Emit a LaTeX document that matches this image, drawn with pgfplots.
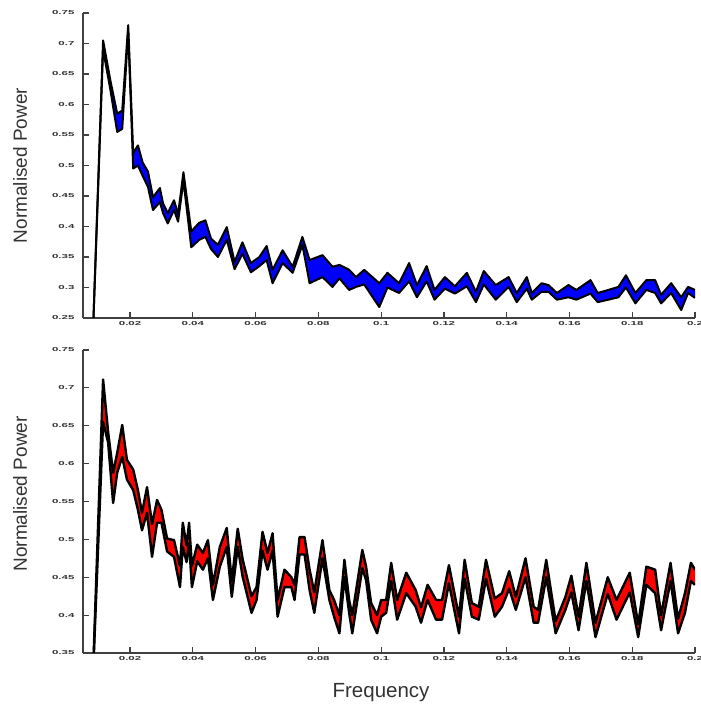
\documentclass[border=0pt]{standalone}
\usepackage{fontspec}
\setmainfont{Liberation Sans}
\usepackage{pgfplots}
\usepackage{pgfplotstable}
\pgfplotsset{compat=1.18}
\usepgfplotslibrary{fillbetween}

% upper panel: band limits
\pgfplotstableread{
x lo hi
0.0080 0.200 0.200
0.0114 0.690 0.705
0.0137 0.625 0.640
0.0159 0.555 0.585
0.0175 0.560 0.590
0.0194 0.720 0.730
0.0210 0.495 0.520
0.0225 0.500 0.533
0.0240 0.483 0.505
0.0257 0.465 0.490
0.0273 0.427 0.448
0.0295 0.440 0.463
0.0305 0.422 0.438
0.0320 0.405 0.422
0.0340 0.427 0.443
0.0353 0.408 0.420
0.0370 0.475 0.489
0.0395 0.366 0.392
0.0420 0.378 0.406
0.0440 0.383 0.410
0.0458 0.363 0.380
0.0480 0.350 0.370
0.0508 0.378 0.399
0.0533 0.330 0.342
0.0558 0.355 0.374
0.0585 0.325 0.340
0.0612 0.335 0.350
0.0635 0.345 0.368
0.0654 0.307 0.329
0.0686 0.340 0.361
0.0718 0.324 0.334
0.0749 0.370 0.383
0.0772 0.307 0.345
0.0813 0.317 0.353
0.0845 0.301 0.334
0.0867 0.315 0.337
0.0898 0.296 0.329
0.0920 0.301 0.317
0.0946 0.305 0.329
0.0994 0.268 0.307
0.1020 0.300 0.324
0.1057 0.291 0.307
0.1089 0.310 0.340
0.1114 0.284 0.304
0.1145 0.310 0.335
0.1170 0.280 0.296
0.1203 0.298 0.317
0.1235 0.290 0.302
0.1273 0.302 0.324
0.1302 0.276 0.293
0.1327 0.305 0.327
0.1365 0.280 0.304
0.1406 0.301 0.317
0.1432 0.276 0.291
0.1464 0.298 0.317
0.1480 0.280 0.291
0.1511 0.293 0.307
0.1533 0.293 0.304
0.1560 0.280 0.291
0.1597 0.284 0.304
0.1622 0.280 0.296
0.1667 0.290 0.312
0.1690 0.276 0.291
0.1724 0.280 0.296
0.1756 0.284 0.301
0.1780 0.300 0.320
0.1810 0.274 0.291
0.1845 0.296 0.312
0.1873 0.291 0.312
0.1892 0.274 0.288
0.1924 0.291 0.307
0.1956 0.263 0.284
0.1978 0.291 0.301
0.2000 0.283 0.296
}\toptab

% lower panel
\pgfplotstableread{
x lo hi
0.0080 0.300 0.300
0.0114 0.655 0.711
0.0130 0.628 0.642
0.0146 0.548 0.588
0.0159 0.588 0.614
0.0175 0.609 0.651
0.0190 0.579 0.605
0.0210 0.565 0.592
0.0225 0.539 0.565
0.0238 0.512 0.535
0.0254 0.535 0.569
0.0270 0.477 0.520
0.0286 0.522 0.552
0.0300 0.522 0.539
0.0318 0.484 0.501
0.0340 0.477 0.499
0.0359 0.437 0.465
0.0368 0.490 0.522
0.0380 0.470 0.492
0.0388 0.495 0.522
0.0397 0.437 0.465
0.0414 0.471 0.493
0.0432 0.460 0.482
0.0448 0.475 0.499
0.0464 0.420 0.440
0.0486 0.464 0.490
0.0508 0.490 0.515
0.0524 0.424 0.445
0.0543 0.490 0.514
0.0559 0.450 0.473
0.0587 0.403 0.425
0.0603 0.420 0.437
0.0622 0.485 0.510
0.0638 0.460 0.482
0.0654 0.485 0.508
0.0670 0.398 0.420
0.0692 0.437 0.460
0.0714 0.437 0.450
0.0724 0.420 0.440
0.0740 0.480 0.503
0.0756 0.480 0.503
0.0772 0.433 0.460
0.0787 0.403 0.430
0.0813 0.475 0.499
0.0835 0.420 0.433
0.0850 0.398 0.420
0.0867 0.376 0.400
0.0883 0.450 0.473
0.0898 0.403 0.420
0.0908 0.376 0.400
0.0940 0.462 0.486
0.0952 0.446 0.464
0.0968 0.394 0.416
0.0987 0.376 0.400
0.1000 0.398 0.420
0.1016 0.403 0.420
0.1032 0.445 0.469
0.1051 0.394 0.420
0.1080 0.429 0.456
0.1110 0.411 0.433
0.1127 0.390 0.410
0.1148 0.420 0.440
0.1175 0.394 0.420
0.1194 0.394 0.420
0.1216 0.442 0.466
0.1248 0.376 0.398
0.1266 0.448 0.473
0.1289 0.398 0.416
0.1311 0.394 0.411
0.1334 0.448 0.473
0.1362 0.398 0.422
0.1385 0.411 0.429
0.1408 0.435 0.458
0.1429 0.407 0.424
0.1460 0.450 0.475
0.1486 0.390 0.411
0.1500 0.390 0.407
0.1526 0.450 0.473
0.1556 0.376 0.392
0.1587 0.407 0.424
0.1606 0.430 0.452
0.1629 0.380 0.398
0.1654 0.445 0.469
0.1683 0.371 0.390
0.1722 0.428 0.450
0.1750 0.394 0.420
0.1792 0.430 0.456
0.1819 0.371 0.388
0.1845 0.440 0.464
0.1873 0.429 0.460
0.1892 0.380 0.400
0.1922 0.445 0.469
0.1946 0.376 0.395
0.1968 0.403 0.429
0.1987 0.445 0.469
0.2000 0.440 0.460
}\bottab

\pgfplotsset{psd/.style={
  scale only axis, width=612pt,
  axis lines=left, axis line style={black!75, line width=1.5pt, -},
  xmin=0.005, xmax=0.2,
  xtick={0.02,0.04,0.06,0.08,0.1,0.12,0.14,0.16,0.18,0.2},
  tick style={black!75, line width=1.2pt}, major tick length=6pt,
  tick align=inside,
  scaled ticks=false,
  /pgf/number format/fixed,
  /pgf/number format/assume math mode=true,
  ticklabel style={font=\fontsize{11.5}{12}\selectfont\bfseries, text=black!80},
  xticklabel={\scalebox{1}[0.5]{\pgfmathprintnumber{\tick}}},
  yticklabel={\scalebox{1}[0.5]{\pgfmathprintnumber{\tick}}},
  yticklabel style={xshift=-5pt},
  ylabel={Normalised Power},
  ylabel style={font=\fontsize{19}{22}\selectfont, text=black!80,
    at={(axis description cs:-0.103,0.5)}, anchor=center},
}}

\begin{document}
\begin{tikzpicture}

\begin{axis}[psd, at={(83pt,390pt)}, anchor=south west, height=305pt,
  ymin=0.25, ymax=0.75,
  ytick={0.25,0.3,0.35,0.4,0.45,0.5,0.55,0.6,0.65,0.7,0.75}]
  \addplot[draw=none, name path=th] table[x=x, y=hi] {\toptab};
  \addplot[draw=none, name path=tl] table[x=x, y=lo] {\toptab};
  \addplot[blue] fill between[of=th and tl];
  \addplot[black, line width=2pt, line join=round] table[x=x, y=hi] {\toptab};
  \addplot[black, line width=2pt, line join=round] table[x=x, y=lo] {\toptab};
\end{axis}

\begin{axis}[psd, at={(83pt,55pt)}, anchor=south west, height=303pt,
  ymin=0.35, ymax=0.75,
  ytick={0.35,0.4,0.45,0.5,0.55,0.6,0.65,0.7,0.75},
  ylabel style={at={(axis description cs:-0.103,0.525)}},
  xlabel={Frequency},
  xlabel style={font=\fontsize{20.5}{23}\selectfont, text=black!80,
    at={(axis description cs:0.487,-0.132)}, anchor=center}]
  \addplot[draw=none, name path=bh] table[x=x, y=hi] {\bottab};
  \addplot[draw=none, name path=bl] table[x=x, y=lo] {\bottab};
  \addplot[red] fill between[of=bh and bl];
  \addplot[black, line width=2.4pt, line join=round] table[x=x, y=hi] {\bottab};
  \addplot[black, line width=2.4pt, line join=round] table[x=x, y=lo] {\bottab};
\end{axis}

\pgfresetboundingbox
\path[use as bounding box] (0pt,0pt) rectangle (700pt,708pt);
\end{tikzpicture}
\end{document}
